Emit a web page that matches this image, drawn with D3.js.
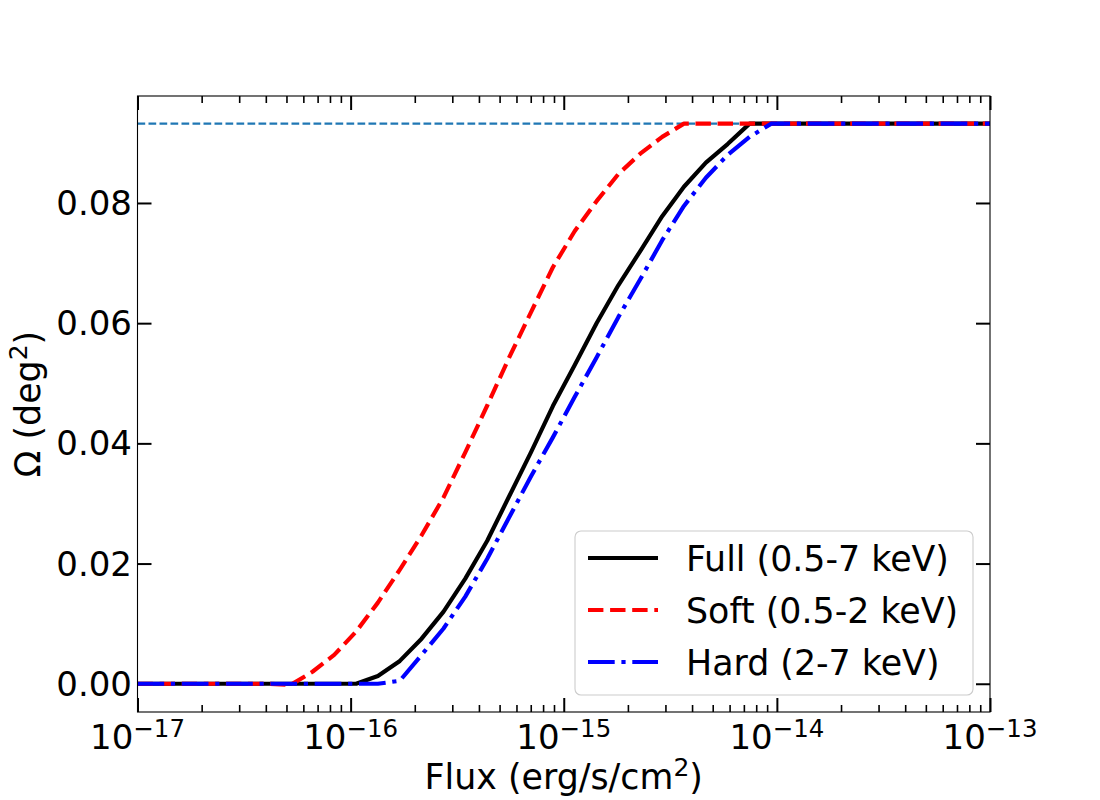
<!DOCTYPE html>
<html>
<head>
<meta charset="utf-8">
<script src="https://cdn.jsdelivr.net/npm/d3@7"></script>
<style>
  body { margin: 0; background: #fff; }
  svg { font-family: "DejaVu Sans", sans-serif; }
</style>
</head>
<body>
<div id="chart"></div>
<script>
// log10 of the flux grid the curves were sampled on
const logFlux = [
  -17.000, -16.897, -16.795, -16.692, -16.590, -16.487, -16.385, -16.282, -16.179, -16.077,
  -15.974, -15.872, -15.769, -15.667, -15.564, -15.462, -15.359, -15.256, -15.154, -15.051,
  -14.949, -14.846, -14.744, -14.641, -14.538, -14.436, -14.333, -14.231, -14.128, -14.026,
  -13.923, -13.821, -13.718, -13.615, -13.513, -13.410, -13.308, -13.205, -13.103, -13.000
];

// sky coverage (deg^2) per band
const fullArea = [
  0, 0, 0, 0, 0, 0, 0, 0, 0, 0,
  0, 0.0013, 0.0038, 0.0075, 0.0120, 0.0175, 0.0238, 0.0312, 0.0385, 0.0462,
  0.0530, 0.0600, 0.0663, 0.0720, 0.0778, 0.0827, 0.0867, 0.0898, 0.0932, 0.0932,
  0.0932, 0.0932, 0.0932, 0.0932, 0.0932, 0.0932, 0.0932, 0.0932, 0.0932, 0.0932
];
const softArea = [
  0, 0, 0, 0, 0, 0, 0, -0.0002, 0.0020, 0.0048,
  0.0087, 0.0135, 0.0190, 0.0247, 0.0310, 0.0385, 0.0463, 0.0543, 0.0618, 0.0693,
  0.0753, 0.0803, 0.0848, 0.0882, 0.0910, 0.0932, 0.0932, 0.0932, 0.0932, 0.0932,
  0.0932, 0.0932, 0.0932, 0.0932, 0.0932, 0.0932, 0.0932, 0.0932, 0.0932, 0.0932
];
const hardArea = [
  0, 0, 0, 0, 0, 0, 0, 0, 0, 0,
  0, 0, 0.0005, 0.0048, 0.0092, 0.0145, 0.0208, 0.0277, 0.0345, 0.0410,
  0.0477, 0.0543, 0.0610, 0.0673, 0.0738, 0.0795, 0.0842, 0.0880, 0.0910, 0.0932,
  0.0932, 0.0932, 0.0932, 0.0932, 0.0932, 0.0932, 0.0932, 0.0932, 0.0932, 0.0932
];
const maxArea = 0.0932;

const seriesNames = ["Full (0.5-7 keV)", "Soft (0.5-2 keV)", "Hard (2-7 keV)"];
const xTickExps = [-17, -16, -15, -14, -13];
const yTicks = [0, 0.02, 0.04, 0.06, 0.08];
const yTickLabels = ["0.00", "0.02", "0.04", "0.06", "0.08"];

const W = 1100, H = 800;
const m = { left: 137.5, right: 990, top: 96, bottom: 712 };
const fsTick = 34;
const fsText = 34.8;

const svg = d3.select("#chart").append("svg")
  .attr("width", W)
  .attr("height", H);

const x = d3.scaleLog().domain([1e-17, 1e-13]).range([m.left, m.right]);
const y = d3.scaleLinear().domain([-0.0047, 0.0978]).range([m.bottom, m.top]);

svg.append("clipPath").attr("id", "plot-clip")
  .append("rect")
  .attr("x", m.left).attr("y", m.top)
  .attr("width", m.right - m.left).attr("height", m.bottom - m.top);

// minor ticks 2..9 x 10^n
const minorTicks = [];
xTickExps.slice(0, -1).forEach(e => {
  for (let k = 2; k <= 9; k++) minorTicks.push(k * Math.pow(10, e));
});
const majorTicks = xTickExps.map(e => Math.pow(10, e));

function styleTicks(g, width) {
  g.select(".domain").remove();
  g.selectAll(".tick line").attr("stroke", "#000").attr("stroke-width", width);
  g.selectAll(".tick text").remove();
}

// x axes, bottom and top, ticks pointing inward
svg.append("g").attr("transform", `translate(0,${m.bottom})`)
  .call(d3.axisBottom(x).tickValues(minorTicks).tickSize(-7).tickFormat(""))
  .call(g => styleTicks(g, 1.6));
svg.append("g").attr("transform", `translate(0,${m.bottom})`)
  .call(d3.axisBottom(x).tickValues(majorTicks).tickSize(-14).tickFormat(""))
  .call(g => styleTicks(g, 2));
svg.append("g").attr("transform", `translate(0,${m.top})`)
  .call(d3.axisTop(x).tickValues(minorTicks).tickSize(-7).tickFormat(""))
  .call(g => styleTicks(g, 1.6));
svg.append("g").attr("transform", `translate(0,${m.top})`)
  .call(d3.axisTop(x).tickValues(majorTicks).tickSize(-14).tickFormat(""))
  .call(g => styleTicks(g, 2));

// y axes, left and right
svg.append("g").attr("transform", `translate(${m.left},0)`)
  .call(d3.axisLeft(y).tickValues(yTicks).tickSize(-14).tickFormat(""))
  .call(g => styleTicks(g, 2));
svg.append("g").attr("transform", `translate(${m.right},0)`)
  .call(d3.axisRight(y).tickValues(yTicks).tickSize(-14).tickFormat(""))
  .call(g => styleTicks(g, 2));

// x tick labels 10^n
const xLabels = svg.append("g").selectAll("text")
  .data(xTickExps)
  .enter().append("text")
  .attr("x", d => x(Math.pow(10, d)))
  .attr("y", 749)
  .attr("text-anchor", "middle")
  .attr("font-size", fsTick)
  .attr("fill", "#000");
xLabels.append("tspan").text("10");
xLabels.append("tspan")
  .attr("dy", -12)
  .attr("font-size", fsTick * 0.72)
  .text(d => "\u2212" + Math.abs(d));

// y tick labels
svg.append("g").selectAll("text")
  .data(yTicks)
  .enter().append("text")
  .attr("x", 132)
  .attr("y", d => y(d) + 12)
  .attr("text-anchor", "end")
  .attr("font-size", fsTick)
  .attr("fill", "#000")
  .text((d, i) => yTickLabels[i]);

// axis labels
const xTitle = svg.append("text")
  .attr("x", (m.left + m.right) / 2)
  .attr("y", 789)
  .attr("text-anchor", "middle")
  .attr("font-size", fsText);
xTitle.append("tspan").text("Flux (erg/s/cm");
xTitle.append("tspan").attr("dy", -13).attr("font-size", fsText * 0.72).text("2");
xTitle.append("tspan").attr("dy", 13).text(")");

const yTitle = svg.append("text")
  .attr("transform", `translate(40,${(m.top + m.bottom) / 2}) rotate(-90)`)
  .attr("text-anchor", "middle")
  .attr("font-size", fsText);
yTitle.append("tspan").text("\u03A9 (deg");
yTitle.append("tspan").attr("dy", -13).attr("font-size", fsText * 0.72).text("2");
yTitle.append("tspan").attr("dy", 13).text(")");

// curves
const plot = svg.append("g").attr("clip-path", "url(#plot-clip)");

plot.append("line")
  .attr("x1", m.left).attr("x2", m.right)
  .attr("y1", y(maxArea)).attr("y2", y(maxArea))
  .attr("stroke", "#1f77b4")
  .attr("stroke-width", 2.08)
  .attr("stroke-dasharray", "7.7,3.3");

const series = [
  { name: seriesNames[0], values: fullArea, color: "#000000", dash: null, cap: "square" },
  { name: seriesNames[1], values: softArea, color: "#ff0000", dash: "15.4,6.7", cap: "butt" },
  { name: seriesNames[2], values: hardArea, color: "#0000ff", dash: "26.7,6.7,4.2,6.7", cap: "butt" }
];

const line = d3.line()
  .x((d, i) => x(Math.pow(10, logFlux[i])))
  .y(d => y(d));

plot.selectAll(".curve")
  .data(series)
  .enter().append("path")
  .attr("class", "curve")
  .attr("d", d => line(d.values))
  .attr("fill", "none")
  .attr("stroke", d => d.color)
  .attr("stroke-width", 4.17)
  .attr("stroke-linejoin", "round")
  .attr("stroke-linecap", d => d.cap)
  .attr("stroke-dasharray", d => d.dash);

// spines
svg.append("rect")
  .attr("x", m.left).attr("y", m.top)
  .attr("width", m.right - m.left).attr("height", m.bottom - m.top)
  .attr("fill", "none")
  .attr("stroke", "#000")
  .attr("stroke-width", 1.1);

// legend
const legend = svg.append("g");
legend.append("rect")
  .attr("x", 575).attr("y", 531)
  .attr("width", 398).attr("height", 164)
  .attr("rx", 6).attr("ry", 6)
  .attr("fill", "#fff").attr("fill-opacity", 0.8)
  .attr("stroke", "#cccccc").attr("stroke-width", 1.1);

const rows = legend.selectAll(".row")
  .data(series)
  .enter().append("g")
  .attr("class", "row")
  .attr("transform", (d, i) => `translate(0,${558 + i * 52})`);
rows.append("line")
  .attr("x1", 588).attr("x2", 658)
  .attr("stroke", d => d.color)
  .attr("stroke-width", 4.17)
  .attr("stroke-linecap", d => d.cap === "square" ? "butt" : d.cap)
  .attr("stroke-dasharray", d => d.dash);
rows.append("text")
  .attr("x", 686)
  .attr("y", 12.5)
  .attr("font-size", fsText)
  .attr("fill", "#000")
  .text(d => d.name);
</script>
</body>
</html>
